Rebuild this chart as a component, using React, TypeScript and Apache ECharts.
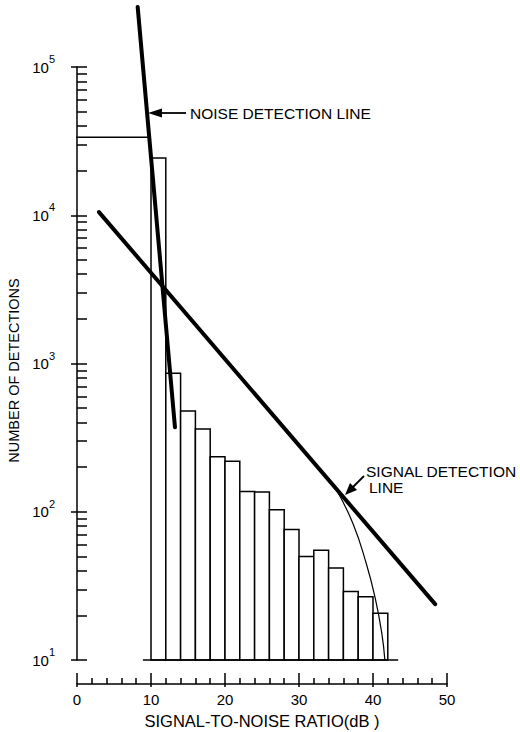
import React, { useEffect, useRef } from 'react';
import * as echarts from 'echarts';

// Histogram of detections: bin start (dB), bin end (dB), count
const binStarts = [10, 12, 14, 16, 18, 20, 22, 24, 26, 28, 30, 32, 34, 36, 38, 40];
const binEnds = [12, 14, 16, 18, 20, 22, 24, 26, 28, 30, 32, 34, 36, 38, 40, 42];
const binCounts = [24300, 860, 479, 362, 235, 219, 137, 136, 103, 76, 50, 55, 41.7, 29, 26.7, 20.7];

// Noise detection line (thick)
const noiseLineX = [8.2, 13.24];
const noiseLineY = [254000, 371];

// Signal detection line (thick)
const signalLineX = [2.97, 48.4];
const signalLineY = [10500, 23.8];

// Thin noise level line
const noiseLevelX = [-1.9, 9.6];
const noiseLevelY = [33600, 33600];

// Thin curve falling off the signal line
const signalCurveX = [35.1, 37.3, 39.1, 40.3, 41.2, 41.6];
const signalCurveY = [139, 83, 44.6, 26.1, 15, 10];

// Histogram baseline
const baselineX = [8.9, 43.4];
const baselineY = [10, 10];

// Axes
const yDecades = [1, 2, 3, 4, 5];
const yMinorMultipliers = [1, 2, 3, 4, 5, 6, 7, 8, 9];
const xMin = 0;
const xMax = 50;
const xInterval = 10;

const FONT = "'Liberation Sans', Arial, sans-serif";
const INK = '#000';

const lg = (v: number) => Math.log10(v);
const pairs = (xs: number[], ys: number[]) => xs.map((x, i) => [x, lg(ys[i])]);

export default function App() {
  const ref = useRef<HTMLDivElement>(null);

  useEffect(() => {
    if (!ref.current) return;
    const chart = echarts.init(ref.current, undefined, { renderer: 'svg' });

    const minorTicks: number[] = [];
    for (let d = yDecades[0]; d < yDecades[yDecades.length - 1]; d++) {
      for (const m of yMinorMultipliers) minorTicks.push(lg(m * Math.pow(10, d)));
    }
    minorTicks.push(yDecades[yDecades.length - 1]);

    const lineStyleThick = { color: INK, width: 4, cap: 'round' as const };
    const lineStyleThin = { color: INK, width: 1.5 };

    const option: any = {
      animation: false,
      backgroundColor: '#fff',
      grid: {
        left: 77,
        right: 73,
        top: 67,
        bottom: 72,
        containLabel: false,
        outerBoundsMode: 'none',
      },
      xAxis: [
        {
          type: 'value',
          min: xMin,
          max: xMax,
          interval: xInterval,
          position: 'bottom',
          offset: 24,
          splitLine: { show: false },
          axisLine: { show: true, lineStyle: { color: INK, width: 1.5 } },
          axisTick: { show: true, inside: true, length: 11, lineStyle: { color: INK, width: 1.5 } },
          minorTick: { show: true, splitNumber: 5, length: 6, lineStyle: { color: INK, width: 1.5 } },
          axisLabel: { show: true, color: INK, fontSize: 15, fontFamily: FONT, margin: 8 },
          name: 'SIGNAL-TO-NOISE RATIO(dB )',
          nameLocation: 'middle',
          nameGap: 28,
          nameTextStyle: { color: INK, fontSize: 16.5, fontFamily: FONT },
        },
        {
          type: 'value',
          min: xMin,
          max: xMax,
          interval: xInterval,
          position: 'bottom',
          offset: 24,
          splitLine: { show: false },
          axisLine: { show: false },
          axisTick: { show: true, inside: false, length: 3, lineStyle: { color: INK, width: 1.5 } },
          axisLabel: { show: false },
        },
      ],
      yAxis: [
        {
          type: 'value',
          min: yDecades[0],
          max: yDecades[yDecades.length - 1],
          interval: 1,
          position: 'left',
          offset: 14,
          splitLine: { show: false },
          axisLine: { show: true, lineStyle: { color: INK, width: 1.5 } },
          axisTick: {
            show: true,
            inside: true,
            length: 10,
            customValues: minorTicks,
            lineStyle: { color: INK, width: 1.5 },
          },
          axisLabel: {
            show: true,
            margin: 8,
            formatter: (v: number) => `{b|10}{s|${Math.round(v)}}`,
            rich: {
              b: { fontSize: 15, fontFamily: FONT, color: INK },
              s: { fontSize: 11, fontFamily: FONT, color: INK, padding: [0, 0, 16, 0] },
            },
          },
          name: 'NUMBER OF DETECTIONS',
          nameLocation: 'middle',
          nameRotate: 90,
          nameGap: 40,
          nameTextStyle: { color: INK, fontSize: 14.5, fontFamily: FONT, padding: [0, 14, 0, 0] },
        },
        {
          type: 'value',
          min: yDecades[0],
          max: yDecades[yDecades.length - 1],
          interval: 1,
          position: 'left',
          offset: 14,
          splitLine: { show: false },
          axisLine: { show: false },
          axisTick: { show: true, inside: false, length: 6, lineStyle: { color: INK, width: 1.5 } },
          axisLabel: { show: false },
        },
      ],
      series: [
        {
          type: 'custom',
          xAxisIndex: 0,
          yAxisIndex: 0,
          encode: { x: [0, 1], y: 2 },
          data: binStarts.map((s, i) => [s, binEnds[i], lg(binCounts[i])]),
          renderItem: (_params: any, api: any) => {
            const x0 = api.value(0);
            const x1 = api.value(1);
            const v = api.value(2);
            const p0 = api.coord([x0, yDecades[0]]);
            const p1 = api.coord([x1, v]);
            return {
              type: 'rect',
              shape: { x: p0[0], y: p1[1], width: p1[0] - p0[0], height: p0[1] - p1[1] },
              style: { fill: '#fff', stroke: INK, lineWidth: 1.5 },
            };
          },
          z: 1,
        },
        {
          type: 'line',
          data: pairs(baselineX, baselineY),
          symbol: 'none',
          clip: false,
          lineStyle: lineStyleThin,
          z: 2,
        },
        {
          type: 'line',
          data: pairs(noiseLevelX, noiseLevelY),
          symbol: 'none',
          clip: false,
          lineStyle: lineStyleThin,
          z: 2,
        },
        {
          type: 'line',
          data: pairs(signalCurveX, signalCurveY),
          symbol: 'none',
          smooth: true,
          clip: false,
          lineStyle: { color: INK, width: 1.2 },
          z: 2,
        },
        {
          type: 'line',
          data: pairs(noiseLineX, noiseLineY),
          symbol: 'none',
          clip: false,
          lineStyle: lineStyleThick,
          z: 3,
        },
        {
          type: 'line',
          data: pairs(signalLineX, signalLineY),
          symbol: 'none',
          clip: false,
          lineStyle: lineStyleThick,
          z: 3,
        },
      ],
      graphic: [
        {
          type: 'line',
          shape: { x1: 158, y1: 113, x2: 186, y2: 113 },
          style: { stroke: INK, lineWidth: 1.8 },
        },
        {
          type: 'polygon',
          shape: { points: [[148, 113], [162, 108.5], [162, 117.5]] },
          style: { fill: INK },
        },
        {
          type: 'text',
          x: 190,
          y: 113,
          style: {
            text: 'NOISE DETECTION LINE',
            fill: INK,
            font: `15.5px ${FONT}`,
            verticalAlign: 'middle',
            align: 'left',
          },
        },
        {
          type: 'line',
          shape: { x1: 364, y1: 476, x2: 352, y2: 488 },
          style: { stroke: INK, lineWidth: 1.8 },
        },
        {
          type: 'polygon',
          shape: { points: [[345, 495], [357, 490], [350, 483]] },
          style: { fill: INK },
        },
        {
          type: 'text',
          x: 366,
          y: 471,
          style: {
            text: 'SIGNAL DETECTION',
            fill: INK,
            font: `15.5px ${FONT}`,
            verticalAlign: 'middle',
            align: 'left',
          },
        },
        {
          type: 'text',
          x: 369,
          y: 487,
          style: {
            text: 'LINE',
            fill: INK,
            font: `15.5px ${FONT}`,
            verticalAlign: 'middle',
            align: 'left',
          },
        },
      ],
    };

    chart.setOption(option);
    return () => chart.dispose();
  }, []);

  return (
    <div
      ref={ref}
      style={{ position: 'fixed', left: 0, top: 0, width: 520, height: 732, background: '#fff' }}
    />
  );
}
